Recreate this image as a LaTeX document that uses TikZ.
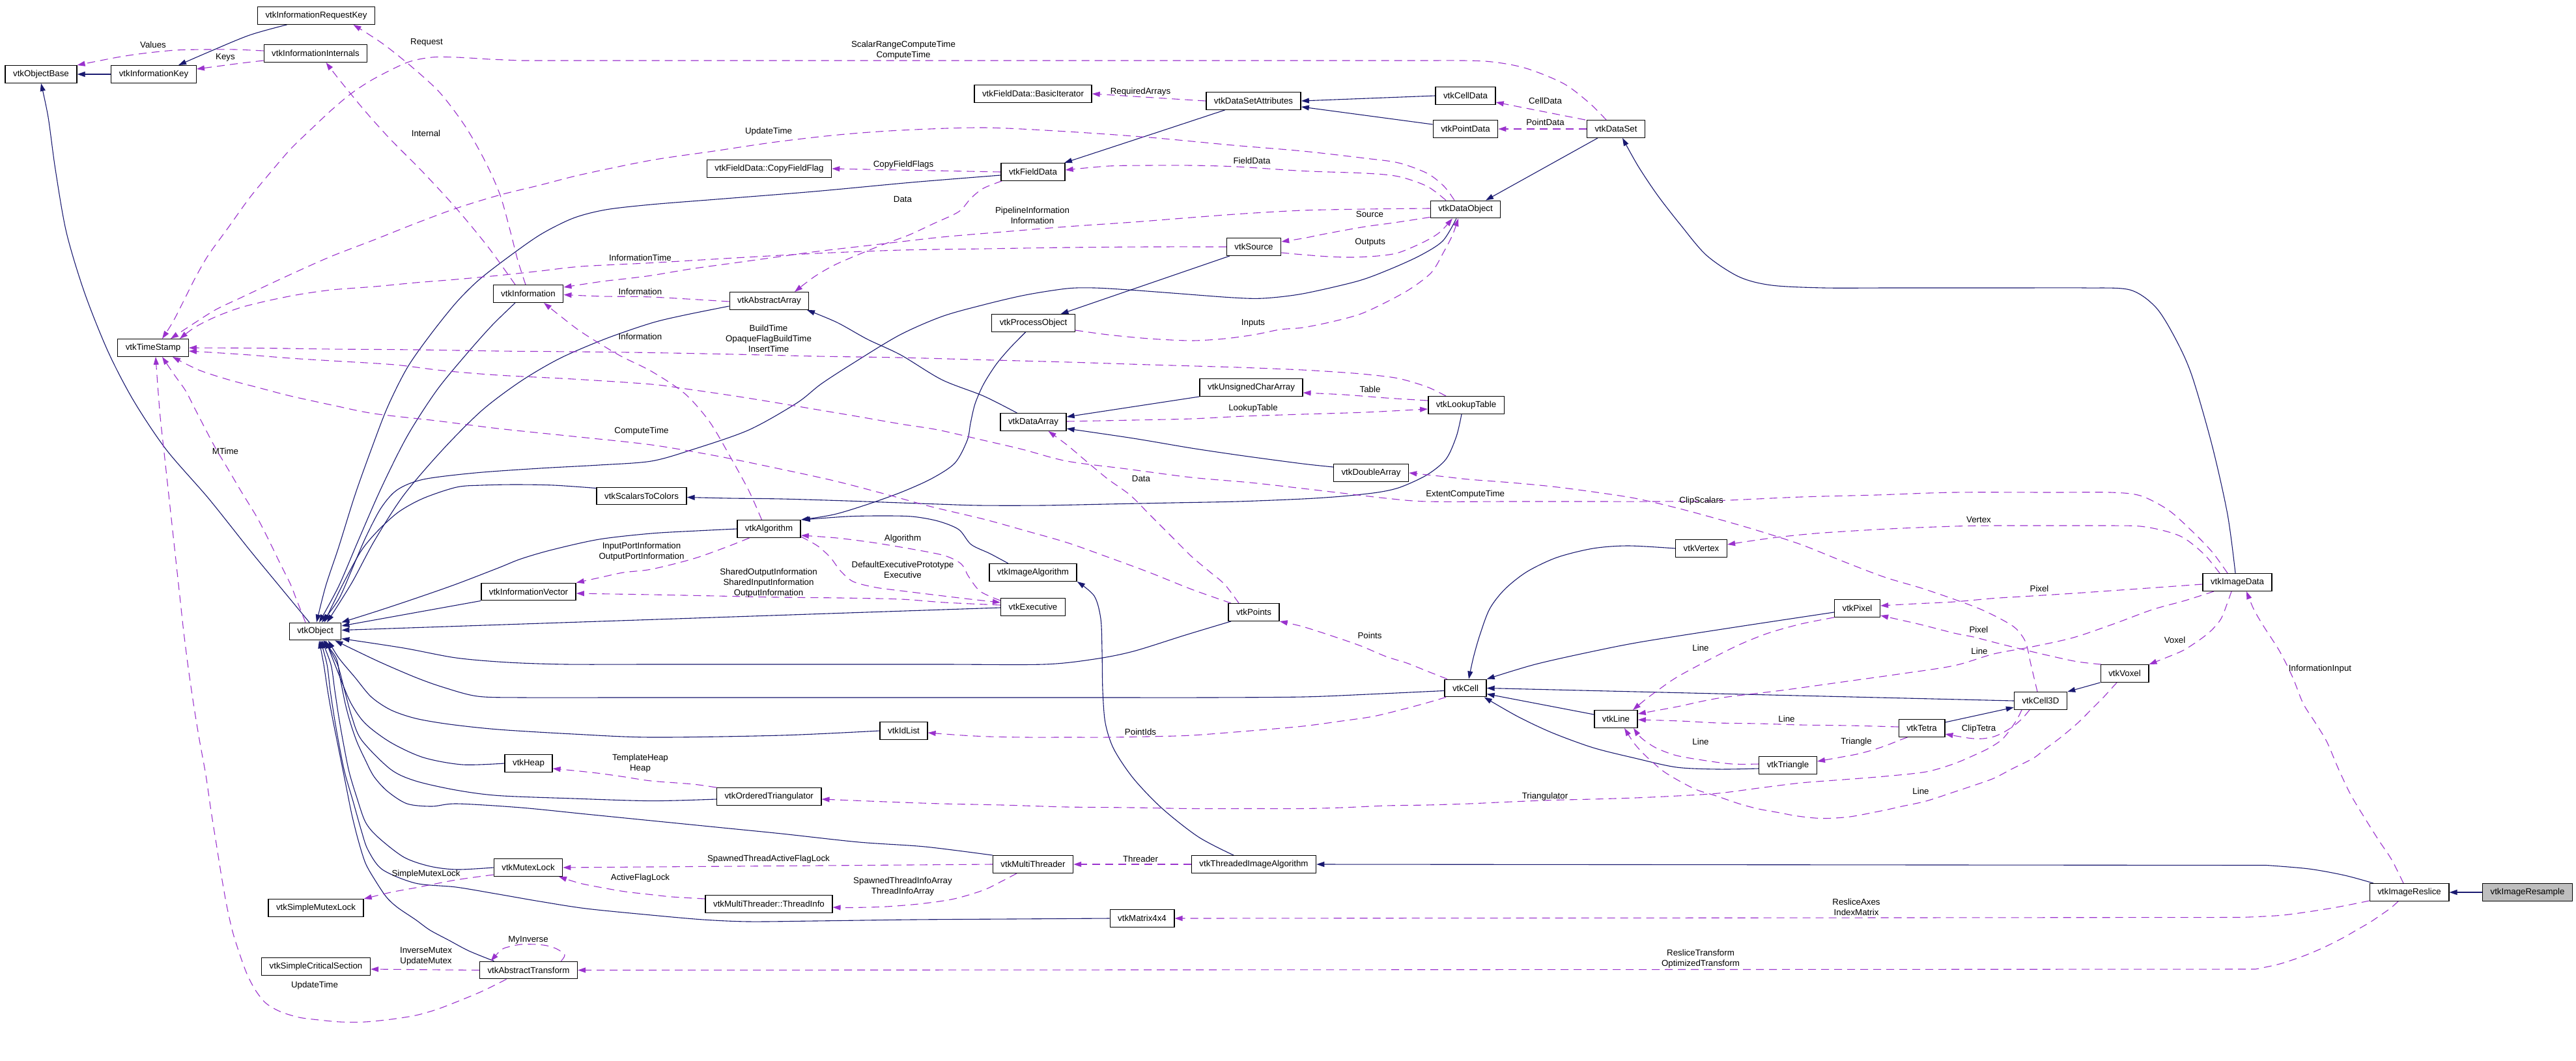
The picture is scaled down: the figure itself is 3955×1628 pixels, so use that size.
\documentclass[tikz,border=0pt]{standalone}
\usepackage{fontspec}
\setmainfont{Liberation Sans}
\usetikzlibrary{arrows.meta}
\definecolor{eblue}{HTML}{191970}
\definecolor{epurp}{HTML}{9A32CD}
\definecolor{resgray}{HTML}{BFBFBF}
\pgfdeclarelayer{background}
\pgfsetlayers{background,main}
\newcommand\fsz{\fontsize{13.3}{16}\selectfont}
\begin{document}
\begin{tikzpicture}[x=1pt,y=-1pt,
 cls/.style={draw=black,line width=1.4pt,fill=white,inner xsep=12pt,inner ysep=0pt,minimum height=26.5pt,font=\fsz},
 inh/.style={draw=eblue,line width=1.1pt,-{Triangle[length=12pt,width=8pt]}},
 usg/.style={draw=epurp,line width=1.1pt,dash pattern=on 12pt off 8pt,-{Triangle[length=12pt,width=8pt]}},
 lbl/.style={font=\fsz,inner sep=0pt,align=center},
 sm/.style={smooth,tension=0.5}]
\useasboundingbox (0,0) rectangle (3955,1628);
% nodes
\node[cls] (ObjectBase) at (63,114) {vtkObjectBase};
\node[cls] (InfoKey) at (236,114) {vtkInformationKey};
\node[cls] (ReqKey) at (485.5,24) {vtkInformationRequestKey};
\node[cls] (Internals) at (484.5,82) {vtkInformationInternals};
\node[cls] (TimeStamp) at (235,534) {vtkTimeStamp};
\node[cls] (Information) at (811,451) {vtkInformation};
\node[cls] (BasicIterator) at (1586,144) {vtkFieldData::BasicIterator};
\node[cls] (DSA) at (1924.5,155) {vtkDataSetAttributes};
\node[cls] (CopyFieldFlag) at (1181,259) {vtkFieldData::CopyFieldFlag};
\node[cls] (FieldData) at (1586,264) {vtkFieldData};
\node[cls] (Source) at (1925,379) {vtkSource};
\node[cls] (AbstractArray) at (1181,462) {vtkAbstractArray};
\node[cls] (ProcessObject) at (1586.5,496) {vtkProcessObject};
\node[cls] (CellData) at (2250,147) {vtkCellData};
\node[cls] (PointData) at (2250,198) {vtkPointData};
\node[cls] (DataSet) at (2481,198) {vtkDataSet};
\node[cls] (DataObject) at (2250,321.5) {vtkDataObject};
\node[cls] (vtkObject) at (484,969.5) {vtkObject};
\node[cls] (ScalarsToColors) at (985,761.5) {vtkScalarsToColors};
\node[cls] (InfoVector) at (811.5,908.5) {vtkInformationVector};
\node[cls] (UCA) at (1921,595) {vtkUnsignedCharArray};
\node[cls] (DataArray) at (1586.5,648) {vtkDataArray};
\node[cls] (Algorithm) at (1180.5,812) {vtkAlgorithm};
\node[cls] (ImageAlgorithm) at (1586,879) {vtkImageAlgorithm};
\node[cls] (Executive) at (1586,932) {vtkExecutive};
\node[cls] (Points) at (1925,940) {vtkPoints};
\node[cls] (LookupTable) at (2251,622) {vtkLookupTable};
\node[cls] (DoubleArray) at (2105,726) {vtkDoubleArray};
\node[cls] (Vertex) at (2612,842) {vtkVertex};
\node[cls] (Pixel) at (2851.5,934) {vtkPixel};
\node[cls] (Cell) at (2250,1056.5) {vtkCell};
\node[cls] (Line) at (2481,1104) {vtkLine};
\node[cls] (ImageData) at (3435,894) {vtkImageData};
\node[cls] (Voxel) at (3262,1034) {vtkVoxel};
\node[cls] (Cell3D) at (3133,1076) {vtkCell3D};
\node[cls] (Tetra) at (2950.5,1118) {vtkTetra};
\node[cls] (Triangle) at (2745,1175) {vtkTriangle};
\node[cls] (Heap) at (811.5,1172) {vtkHeap};
\node[cls] (MutexLock) at (811,1332) {vtkMutexLock};
\node[cls] (SimpleMutexLock) at (485,1394) {vtkSimpleMutexLock};
\node[cls] (SCS) at (485,1484) {vtkSimpleCriticalSection};
\node[cls] (AT) at (811.5,1489.5) {vtkAbstractTransform};
\node[cls] (IdList) at (1387.5,1122) {vtkIdList};
\node[cls] (OT) at (1180.7,1223) {vtkOrderedTriangulator};
\node[cls] (MultiThreader) at (1586,1327) {vtkMultiThreader};
\node[cls] (ThreadInfo) at (1180.5,1388) {vtkMultiThreader::ThreadInfo};
\node[cls] (Matrix) at (1753.5,1410) {vtkMatrix4x4};
\node[cls] (TIA) at (1925,1327) {vtkThreadedImageAlgorithm};
\node[cls] (Reslice) at (3699,1370) {vtkImageReslice};
\node[cls,fill=resgray] (Resample) at (3880.5,1370) {vtkImageResample};

\begin{pgfonlayer}{background}
\fill[white] (0,0) rectangle (3955,1628);
% ---------- inheritance (solid) ----------
\draw[inh] (InfoKey.west) -- (ObjectBase.east);
\draw[inh] plot[sm] coordinates {([xshift=-45pt]ReqKey.south) (383,54) (320,80) ([xshift=38pt]InfoKey.north)};
\draw[inh] plot[sm] coordinates {([xshift=-9pt]vtkObject.north) (425,895) (383,844) (320,765) (255,690) (205,615) (166,540) (130,450) (102,357) (85,260) (74,180) (ObjectBase.south)};
\draw[inh] plot[sm] coordinates {([xshift=-44pt]DSA.south) (1753,211) ([xshift=48pt]FieldData.north)};
\draw[inh] (CellData.west) -- (DSA.east);
\draw[inh] ([yshift=7pt]PointData.west) -- ([yshift=-9pt]DSA.east);
\draw[inh] ([xshift=-28pt]DataSet.south) -- ([xshift=31pt]DataObject.north);
\draw[inh] plot[sm] coordinates {([xshift=-3pt]ImageData.north) (3420,790) (3396,683) (3365,576) (3340,520) (3310,472) (3270,445) (3200,442) (3100,442) (3000,442) (2900,442) (2800,442) (2720,438) (2670,425) (2620,392) (2580,345) (2545,300) (2515,255) ([xshift=10pt]DataSet.south)};
\draw[inh] plot[sm] coordinates {([yshift=-5pt]FieldData.west) (1400,280) (1250,294) (1100,306) (1000,314) (930,322) (880,335) (830,360) (780,395) (735,430) (700,465) (660,515) (625,565) (595,625) (570,690) (545,760) (520,840) (500,900) ([xshift=2pt]vtkObject.north)};
\draw[inh] plot[sm] coordinates {([xshift=-20pt]Information.south) (755,500) (715,545) (670,600) (625,670) (585,750) (550,830) (520,900) ([xshift=6pt]vtkObject.north)};
\draw[inh] plot[sm] coordinates {([yshift=-8pt]AbstractArray.west) (1050,484) (1000,496) (930,520) (860,550) (800,585) (740,630) (680,690) (620,760) (575,830) (540,895) ([xshift=18pt]vtkObject.north)};
\draw[inh] plot[sm] coordinates {([xshift=-14pt]DataObject.south) (2215,370) (2179,393) (2130,415) (2083,432) (2000,451) (1940,458) (1893,457) (1800,450) (1733,445) (1680,442) (1638,443) (1574,453) (1510,468) (1446,486) (1380,515) (1306,560) (1260,590) (1223,619) (1150,660) (1064,690) (1000,708) (920,714) (829,719) (730,726) (650,736) (610,752) (585,780) (561,826) (540,875) (520,920) ([xshift=10pt]vtkObject.north)};
\draw[inh] plot[sm] coordinates {([yshift=12pt]ScalarsToColors.west) (850,745) (791,744) (740,745) (701,748) (650,765) (612,786) (580,815) (555,845) (530,890) (510,930) ([xshift=14pt]vtkObject.north)};
\draw[inh] plot[sm] coordinates {([xshift=-7pt]LookupTable.south) (2236,670) (2220,705) (2191,729) (2150,748) (2115,756) (2060,762) (2000,766) (1900,770) (1800,772) (1700,774) (1600,776) (1504,776) (1440,774) (1383,772) (1300,769) (1200,766) (1120,765) ([yshift=-2pt]ScalarsToColors.east)};
\draw[inh] ([xshift=-37pt]Source.south) -- ([xshift=42pt]ProcessObject.north);
\draw[inh] plot[sm] coordinates {([xshift=-12pt]ProcessObject.south) (1550,535) (1529,560) (1510,590) (1497,620) (1490,650) (1485,676) (1466,711) (1430,735) (1383,756) (1330,775) (1280,790) (Algorithm.north east)};
\draw[inh] plot[sm] coordinates {([xshift=-25pt]DataArray.north) (1510,608) (1446,583) (1383,545) (1332,521) (1285,495) ([xshift=58pt]AbstractArray.south)};
\draw[inh] (UCA.south west) -- ([yshift=8pt]DataArray.east);
\draw[inh] plot[sm] coordinates {([yshift=9pt]DoubleArray.west) (2000,712) (1910,700) (1829,688) (1740,673) ([yshift=-10pt]DataArray.east)};
\draw[inh] plot[sm] coordinates {(Algorithm.west) (1070,815) (1000,819) (920,828) (848,844) (800,858) (765,872) (700,897) (640,918) (580,938) (vtkObject.north east)};
\draw[inh] plot[sm] coordinates {([xshift=-38pt]ImageAlgorithm.north) (1520,850) (1491,836) (1472,813) (1440,800) (1400,793) (1351,792) (1300,793) ([xshift=2pt]Algorithm.north east)};
\draw[inh] (InfoVector.south west) -- ([yshift=8.5pt]vtkObject.east);
\draw[inh] ([yshift=-1pt]Executive.west) -- ([yshift=2pt]vtkObject.east);
\draw[inh] plot[sm] coordinates {([xshift=-35pt]Points.south) (1820,975) (1740,1000) (1680,1012) (1603,1020) (1450,1020) (1300,1020) (1150,1020) (1000,1020) (870,1020) (780,1017) (700,1010) (620,995) ([yshift=-11pt]vtkObject.east)};
\draw[inh] plot[sm] coordinates {([yshift=-4pt]Cell.west) (2100,1066) (2000,1070) (1850,1071) (1700,1071) (1550,1071) (1400,1071) (1250,1071) (1100,1071) (950,1071) (804,1071) (733,1069) (680,1055) (638,1040) (580,1015) ([xshift=-10pt]vtkObject.south east)};
\draw[inh] plot[sm] coordinates {(IdList.west) (1200,1129) (1000,1132) (880,1127) (765,1120) (690,1112) (638,1103) (600,1090) (570,1070) (545,1040) (520,1010) ([xshift=20pt]vtkObject.south)};
\draw[inh] plot[sm] coordinates {(Heap.west) (710,1174) (650,1163) (600,1140) (561,1111) (539,1080) (522,1040) ([xshift=16pt]vtkObject.south)};
\draw[inh] plot[sm] coordinates {([yshift=-4pt]OT.west) (1000,1229.6) (880,1226) (765,1221.5) (700,1213) (638,1199) (599.5,1181) (555,1136) (540,1100) (529,1060) (518,1020) ([xshift=14pt]vtkObject.south)};
\draw[inh] plot[sm] coordinates {(MultiThreader.north west) (1420,1300) (1319,1293) (1200,1280) (1100,1270) (1000,1260) (900,1250) (800,1240) (701.5,1234) (663,1238) (625,1234) (595,1215) (574,1192) (560,1165) (548,1139) (538,1110) (530,1080) (522,1040) (516,1010) ([xshift=12pt]vtkObject.south)};
\draw[inh] plot[sm] coordinates {(MutexLock.west) (701.5,1335) (660,1330) (620,1316) (580,1285) (561,1262) (548,1225) (536,1185) (527,1140) (520,1100) (514,1060) (508,1020) ([xshift=10pt]vtkObject.south)};
\draw[inh] plot[sm] coordinates {(Matrix.west) (1550,1411) (1400,1412) (1250,1414) (1150,1415) (1080,1412) (1000,1405) (900,1395) (829,1384) (760,1372) (700,1362) (638,1356) (587,1335) (565,1305) (555,1276) (542,1230) (529,1185) (520,1140) (513,1100) (507,1060) (502,1020) ([xshift=8pt]vtkObject.south)};
\draw[inh] plot[sm] coordinates {([xshift=-53pt]AT.north) (720,1460) (689,1443.5) (660,1428) (638,1412) (610,1393) (593,1377) (575,1350) (561,1325) (550,1290) (540,1250) (530,1200) (520,1150) (510,1100) (503,1060) (497,1020) ([xshift=6pt]vtkObject.south)};
\draw[inh] plot[sm] coordinates {(Vertex.west) (2500,838) (2446,842) (2390,856) (2344,878) (2310,905) (2287,935) (2272,975) (2262,1010) ([xshift=5pt]Cell.north)};
\draw[inh] plot[sm] coordinates {([yshift=-6pt]Pixel.west) (2670,962) (2523,985) (2446,1000) (2357,1020) (Cell.north east)};
\draw[inh] (Cell3D.west) -- (Cell.east);
\draw[inh] ([yshift=7pt]Line.west) -- ([yshift=-9pt]Cell.east);
\draw[inh] plot[sm] coordinates {([yshift=-5pt]Triangle.west) (2638,1181) (2574,1178) (2510,1164) (2446,1148) (2383,1125) (2330,1100) ([xshift=-4pt]Cell.south east)};
\draw[inh] ([yshift=9pt]Tetra.east) -- ([yshift=-10pt]Cell3D.west);
\draw[inh] (Voxel.south west) -- (Cell3D.north east);
\draw[inh] plot[sm] coordinates {([xshift=-31pt]TIA.north) (1840,1285) (1784,1241) (1740,1195) (1710,1150) (1697,1110) (1693,1060) (1692,1000) (1690,950) (1680,915) (ImageAlgorithm.south east)};
\draw[inh] plot[sm] coordinates {([xshift=-55pt]Reslice.north) (3600,1344) (3545,1334) (3480,1328.5)} -- (TIA.east);
\draw[inh] (Resample.west) -- (Reslice.east);
% ---------- usage (dashed) ----------
\draw[usg] plot[sm] coordinates {([yshift=4pt]Internals.west) (360,76) (319,76) (270,77) (220,82) (180,88) (ObjectBase.north east)};
\draw[usg] plot[sm] coordinates {([yshift=-11pt]Internals.west) (370,97) (332,102) ([yshift=8pt]InfoKey.east)};
\draw[usg] plot[sm] coordinates {([xshift=-4pt]Information.north) (795,400) (784,357) (768,300) (746,250) (715,195) (676,143) (635,105) (593,71) (565,52) ([xshift=57pt]ReqKey.south)};
\draw[usg] plot[sm] coordinates {([xshift=-20pt]Information.north) (750,380) (701.5,321) (650,265) (599.5,214) (560,170) (523,125) ([xshift=16pt]Internals.south)};
\draw[usg] plot[sm] coordinates {([xshift=-15pt]DataSet.north) (2440,158) (2400,128) (2340,104) (2280,94) (2200,93)} -- (800,93) -- plot[sm] coordinates {(752,91) (701,88) (663,88) (625,96) (574,121) (540,143) (510,168) (478,198) (446,229) (415,265) (383,304) (350,350) (319,393) (298,430) (281,464) (265,495) ([xshift=14pt]TimeStamp.north)};
\draw[usg] plot[sm] coordinates {([xshift=-17pt]DataObject.north) (2217,286) (2191,266) (2147,250) (2096,243) (2000,232) (1893,223) (1765,211) (1638,202) (1510,196) (1383,200) (1287,207) (1191,218) (1096,232) (1000,246) (893,268) (830,284) (765,300) (700,320) (638,343) (575,368) (510,393) (460,415) (414.5,436) (370,457) (332,475) (300,495) ([xshift=27pt]TimeStamp.north)};
\draw[usg] plot[sm] coordinates {(Source.west) (1765,379) (1638,380) (1510,382) (1383,384) (1255,389) (1128,396) (1000,403.6) (893,409) (830,416) (765,423) (700,429) (638,434) (575,440) (510,445) (460,452) (414.5,461) (370,472) (332,486) (300,502) ([xshift=41pt]TimeStamp.north)};
\draw[usg] plot[sm] coordinates {([xshift=-30pt]DataObject.north) (2191,286) (2147,271) (2096,266) (2000,262.5) (1900,256) (1829,254) (1760,254) (1701.5,255) ([yshift=3pt]FieldData.east)};
\draw[usg] plot[sm] coordinates {([yshift=1.5pt]DataObject.west) (2096,321) (2000,323) (1910,328) (1829,334) (1740,341) (1638,348) (1540,356) (1446,364) (1350,375) (1255,386) (1190,395) (1128,403.6) (1060,413) (1000,423) (960,428) (925,432) ([yshift=10pt]Information.east)};
\draw[usg] plot[sm] coordinates {([yshift=-12pt]DataObject.west) (2140,342) (2096,348) (2040,358) (2000,366) ([yshift=8pt]Source.east)};
\draw[usg] plot[sm] coordinates {([yshift=-9pt]Source.east) (2000,391) (2040,394) (2076,395) (2115,393) (2147,388) (2185,372) (2210,357) ([xshift=-20pt]DataObject.south)};
\draw[usg] plot[sm] coordinates {([yshift=-11pt]ProcessObject.east) (1701.5,514) (1765,520) (1829,523) (1880,520) (1925,514) (1965,506) (2000,503) (2045,494) (2089,482) (2130,463) (2166,443) (2198,418) (2217,386) (2230,361) ([xshift=-11pt]DataObject.south)};
\draw[usg] plot[sm] coordinates {([xshift=-48pt]FieldData.south) (1510,289) (1491,304) (1472,325) (1434,343) (1395,361) (1357,375) (1320,390) (1281,407) (1250,425) ([xshift=39pt]AbstractArray.north)};
\draw[usg] (FieldData.west) -- (CopyFieldFlag.east);
\draw[usg] (DSA.west) -- (BasicIterator.east);
\draw[usg] ([xshift=-47pt]DataSet.north) -- ([yshift=-10pt]CellData.east);
\draw[usg] (DataSet.west) -- (PointData.east);
\draw[usg] plot[sm] coordinates {([yshift=-1pt]AbstractArray.west) (1000,456) (925,455) ([yshift=-1.5pt]Information.east)};
\draw[usg] plot[sm] coordinates {([xshift=-11pt]Algorithm.north) (1150,754) (1121,701) (1089,647) (1051,604) (1000,570) (950,545) (893,510) (860,485) ([xshift=24pt]Information.south)};
\draw[usg] plot[sm] coordinates {([xshift=-30pt]Algorithm.south) (1115,840) (1064,858) (1000,874) (957,879) (920,887) (InfoVector.north east)};
\draw[usg] plot[sm] coordinates {([yshift=3pt]Executive.west) (1450,925) (1383,920) (1290,918) (1191,917) (1100,915) (1000,913) (940,912) ([yshift=-2.5pt]InfoVector.east)};
\draw[usg] plot[sm] coordinates {([yshift=10pt]Executive.west) (1505,908) (1487,885) (1476,866) (1450,853) (1400,843) (1340,833) (1285,826) ([yshift=-10pt]Algorithm.east)};
\draw[usg] plot[sm] coordinates {([yshift=-12pt]Algorithm.east) (1255,838) (1275,856) (1290,876) (1310,893) (1345,902) (1383,907) (1440,914) (1490,920) ([yshift=7pt]Executive.west)};
\draw[usg] plot[sm] coordinates {([xshift=-23pt]Points.north) (1880,897) (1855,876) (1829,854) (1800,825) (1765,790) (1735,760) (1701.5,736) (1670,710) (1638,683) ([xshift=23pt]DataArray.south)};
\draw[usg] plot[sm] coordinates {([yshift=7pt]LookupTable.west) (2128,611) (2064,606) ([yshift=-8pt]UCA.east)};
\draw[usg] plot[sm] coordinates {([yshift=1pt]DataArray.east) (1740,645) (1829,643) (1910,639) (2000,636) (2096,633) ([yshift=-6pt]LookupTable.west)};
\draw[usg] plot[sm] coordinates {([xshift=-31pt]LookupTable.north) (2191,594) (2147,581) (2100,575) (2064,572) (2000,568) (1900,564) (1765,560) (1640,556) (1510,552.5) (1380,549) (1255,547) (1128,544) (1000,541.5) (880,540) (765,539) (640,537) (510,536) (400,534.5) (TimeStamp.east)};
\draw[usg] plot[sm] coordinates {([xshift=-15pt]ImageData.north) (3396,847) (3365,815) (3329,783) (3286,761) (3240,756) (3150,756) (3000,756) (2880,760) (2765,763) (2638,768.6) (2540,770) (2446,770) (2320,770) (2191,770) (2128,765) (2060,757) (2000,750) (1920,741) (1829,733) (1730,720) (1638,708) (1570,690) (1510,676) (1440,660) (1383,651) (1320,640) (1255,629) (1190,618) (1128,608) (1060,598) (1000,590) (880,582) (765,576) (680,569) (606,560) (510,554) (446,550) (370,544) ([yshift=-5pt]TimeStamp.east)};
\draw[usg] plot[sm] coordinates {([xshift=-35pt]Points.north) (1830,905) (1765,879) (1700,855) (1638,833) (1575,815) (1510,797) (1430,778) (1357,758) (1280,738) (1191,718.6) (1100,700) (1000,683) (880,670) (765,658) (670,646) (574,635) (510,622) (446,608) (400,596) (351,583) (305,568) ([xshift=30pt]TimeStamp.south)};
\draw[usg] plot[sm] coordinates {([xshift=-34pt]AT.south) (740,1522) (701.5,1538) (670,1550) (638,1559) (600,1565) (560,1569) (523,1569) (490,1566) (459,1562) (430,1553) (408,1540) (392,1520) (379,1495) (368,1465) (357,1430) (348,1390) (340,1345) (332,1295) (324,1245) (316,1190) (306,1135) (297,1080) (289,1025) (282,970) (276,915) (270,860) (264,805) (258,750) (252,695) (246,640) (242,590) ([xshift=4pt]TimeStamp.south)};
\draw[usg] plot[sm] coordinates {([xshift=-15pt]vtkObject.north) (455,920) (446,897) (430,865) (414.5,833) (395,795) (370,754) (350,720) (332,690) (316,660) (300,629) (285,600) (268,576) ([xshift=14pt]TimeStamp.south)};
\draw[usg] plot[sm] coordinates {([xshift=-27pt]ImageData.north) (3384,851) (3353,826) (3323,815) (3286,808) (3240,807) (3150,807) (3060,807) (3000,808) (2900,812) (2792,818.6) (2720,826) ([yshift=6pt]Vertex.east)};
\draw[usg] plot[sm] coordinates {([xshift=-5pt]Cell3D.north) (3118,1020) (3110,986) (3095,965) (3073,951) (3040,935) (3000,920) (2950,903) (2893,886) (2830,862) (2765,836) (2700,815) (2638,797) (2575,780) (2510,765) (2445,755) (2383,747) (2320,741) (2255,736) (2210,731) (DoubleArray.east)};
\draw[usg] plot[sm] coordinates {([yshift=-3pt]ImageData.west) (3304.5,902.5) (3240,907) (3183,911) (3120,915) (3061,918.6) (3000,924) (2940,927) ([yshift=4pt]Pixel.east)};
\draw[usg] plot[sm] coordinates {([xshift=-36pt]Voxel.north) (3190,1016) (3152,1008) (3105,997) (3061,986) (3030,978) (3000,972) (2945,958) ([yshift=-11pt]Pixel.east)};
\draw[usg] plot[sm] coordinates {([xshift=-9pt]ImageData.south) (3420,925) (3410,950) (3395,968) (3377.6,982) (3353,998) (3330,1008) (Voxel.north east)};
\draw[usg] plot[sm] coordinates {([xshift=-36pt]ImageData.south) (3355,922) (3304.5,936) (3245,958) (3183,979) (3120,993) (3061,1004) (3000,1022) (2915,1035) (2829,1047) (2735,1060) (2638,1072) (2575,1085) ([yshift=8pt]Line.east)};
\draw[usg] plot[sm] coordinates {(Pixel.south west) (2765,958) (2715,972) (2670,990) (2620,1015) (2574,1040) (2545,1060) (2525,1075) ([xshift=26pt]Line.north)};
\draw[usg] plot[sm] coordinates {([yshift=2pt]Tetra.west) (2840,1114) (2765,1113) (2700,1111) (2638,1110) (2580,1107) ([yshift=-1pt]Line.east)};
\draw[usg] plot[sm] coordinates {([yshift=2pt]Triangle.west) (2660,1173) (2620,1168) (2574,1160) (2542,1148) (2520,1133) ([xshift=27pt]Line.south)};
\draw[usg] plot[sm] coordinates {([xshift=-12pt]Voxel.south) (3230,1070) (3213,1087) (3190,1110) (3164,1132) (3140,1150) (3122,1164) (3090,1180) (3061,1195) (3030,1206) (3000,1216) (2957,1230) (2920,1238) (2893,1244) (2840,1254) (2797,1256.5) (2760,1253) (2733,1248) (2700,1242) (2670,1234) (2635,1222) (2606,1213) (2580,1200) (2555,1185) (2537,1170) (2523,1157) (2508,1140) ([xshift=13pt]Line.south)};
\draw[usg] plot[sm] coordinates {([xshift=-22pt]Tetra.south) (2915,1137) (2900,1143) (2880,1150) (2855,1157) (2829,1162) ([yshift=6pt]Triangle.east)};
\draw[usg] plot[sm] coordinates {([xshift=-17pt]Cell3D.south) (3105,1103) (3091,1115) (3075,1125) (3061,1131) (3045,1134) (3030,1134) (3015,1132) ([yshift=-9pt]Tetra.east)};
\draw[usg] plot[sm] coordinates {([xshift=-29pt]Cell3D.south) (3097,1104) (3085,1122) (3073,1136) (3055,1148) (3036.5,1157) (3000,1172.6) (2957,1185) (2893,1192) (2830,1197) (2765,1202) (2700,1210) (2638,1218) (2575,1222) (2510,1225) (2445,1227) (2383,1228.5) (2320,1231) (2255,1234) (2190,1236) (2128,1237) (2060,1240) (2000,1241.5) (1920,1241.5) (1829,1241.5) (1740,1240) (1638,1239) (1540,1236) (1446,1234) (1360,1231) ([yshift=-4pt]OT.east)};
\draw[usg] plot[sm] coordinates {([xshift=-28pt]Cell.north) (2190,1030) (2160,1018) (2128,1008) (2090,992) (2050,978) (2000,962) (Points.south east)};
\draw[usg] plot[sm] coordinates {([xshift=-30pt]Cell.south) (2191,1079) (2150,1090) (2108,1100) (2060,1107) (2000,1115) (1920,1122) (1829,1129) (1760,1131) (1701.5,1132) (1640,1132) (1574,1132) (1520,1131) (1478,1129) ([yshift=-3pt]IdList.east)};
\draw[usg] plot[sm] coordinates {(OT.north west) (1064,1204) (1000,1199) (960,1193) (925,1188) (890,1184) ([yshift=-8pt]Heap.east)};
\draw[usg] (MultiThreader.west) -- (MutexLock.east);
\draw[usg] plot[sm] coordinates {([yshift=8pt]ThreadInfo.west) (1032,1377) (1000,1373.6) (960,1369) (925,1363) (890,1356) ([xshift=47pt]MutexLock.south)};
\draw[usg] plot[sm] coordinates {([xshift=-25pt]MultiThreader.south) (1540,1352) (1510,1366.6) (1465,1380) (1414.5,1387.5) (1360,1392) (1306,1393.5) ([yshift=-5pt]ThreadInfo.east)};
\draw[usg] plot[sm] coordinates {([yshift=-11pt]MutexLock.west) (700,1351) (638,1363) (600,1370) (SimpleMutexLock.north east)};
\draw[usg] (AT.west) -- ([yshift=-4pt]SCS.east);
\draw[usg] plot[sm] coordinates {([xshift=50pt]AT.north) (867,1466) (855,1457) (840,1452) (823,1450) (800,1450) (784,1453) (770,1458) ([xshift=-58pt]AT.north)};
\draw[usg] plot[sm] coordinates {([yshift=-13pt]Reslice.west) (3578.6,1394.5) (3505.5,1405) (3440,1408.5)} -- (Matrix.east);
\draw[usg] plot[sm] coordinates {([xshift=-17pt]Reslice.south) (3670,1394.5) (3655,1405) (3639.5,1415.5) (3618,1428) (3597,1440) (3567,1455) (3536,1468) (3500,1480) (3463,1488)} -- (AT.east);
\draw[usg] plot[sm] coordinates {([xshift=-9pt]Reslice.north) (3672,1320) (3652,1290) (3630,1255) (3609,1220) (3590,1180) (3572.5,1139) (3555,1110) (3536,1080) (3520,1040) (3500,1000) (3475,961) (3460,935) ([xshift=14pt]ImageData.south)};
\draw[usg] (TIA.west) -- (MultiThreader.east);
\end{pgfonlayer}

% ---------- labels ----------
\node[lbl] (l01) at (235,68.6) {Values};
\node[lbl] (l02) at (346,88.6) {Keys};
\node[lbl] (l03) at (655,65) {Request};
\node[lbl] (l04) at (654,204.6) {Internal};
\node[lbl] (l05) at (1387,76.6) {ScalarRangeComputeTime\\ComputeTime};
\node[lbl] (l06) at (1751,141) {RequiredArrays};
\node[lbl] (l07) at (1180,202.5) {UpdateTime};
\node[lbl] (l08) at (1387,252.9) {CopyFieldFlags};
\node[lbl] (l09) at (1922,246.4) {FieldData};
\node[lbl] (l10) at (1386,306.4) {Data};
\node[lbl] (l11) at (1585,330.5) {PipelineInformation\\Information};
\node[lbl] (l12) at (2103,328.6) {Source};
\node[lbl] (l13) at (2103.6,372.5) {Outputs};
\node[lbl] (l14) at (2372.5,155) {CellData};
\node[lbl] (l15) at (2372.5,188) {PointData};
\node[lbl] (l16) at (983,396) {InformationTime};
\node[lbl] (l17) at (983,447.5) {Information};
\node[lbl] (l18) at (983,517) {Information};
\node[lbl] (l19) at (1924,496.4) {Inputs};
\node[lbl] (l20) at (1180,519.6) {BuildTime\\OpaqueFlagBuildTime\\InsertTime};
\node[lbl] (l21) at (2103.5,598) {Table};
\node[lbl] (l22) at (1924,627.5) {LookupTable};
\node[lbl] (l23) at (346,692.5) {MTime};
\node[lbl] (l24) at (985,662.5) {ComputeTime};
\node[lbl] (l25) at (1752,734.6) {Data};
\node[lbl] (l26) at (2249.6,758.6) {ExtentComputeTime};
\node[lbl] (l27) at (2612,768.6) {ClipScalars};
\node[lbl] (l28) at (3038,798.2) {Vertex};
\node[lbl] (l29) at (1386,826.8) {Algorithm};
\node[lbl] (l30) at (985,846.6) {InputPortInformation\\OutputPortInformation};
\node[lbl] (l31) at (1386,874.9) {DefaultExecutivePrototype\\Executive};
\node[lbl] (l32) at (1180,894.6) {SharedOutputInformation\\SharedInputInformation\\OutputInformation};
\node[lbl] (l33) at (3131,903.6) {Pixel};
\node[lbl] (l34) at (3038,966.4) {Pixel};
\node[lbl] (l35) at (2103,976) {Points};
\node[lbl] (l36) at (3339,983) {Voxel};
\node[lbl] (l37) at (2611,995) {Line};
\node[lbl] (l38) at (3039,999.6) {Line};
\node[lbl] (l39) at (3562,1027.5) {InformationInput};
\node[lbl] (l40) at (2743,1104) {Line};
\node[lbl] (l41) at (3038,1119.5) {ClipTetra};
\node[lbl] (l42) at (1751,1124) {PointIds};
\node[lbl] (l43) at (2611,1139) {Line};
\node[lbl] (l44) at (2850,1139) {Triangle};
\node[lbl] (l45) at (983,1172) {TemplateHeap\\Heap};
\node[lbl] (l46) at (2949,1214.5) {Line};
\node[lbl] (l47) at (2372,1223) {Triangulator};
\node[lbl] (l48) at (1180,1318.7) {SpawnedThreadActiveFlagLock};
\node[lbl] (l49) at (1751,1318.7) {Threader};
\node[lbl] (l50) at (654,1342) {SimpleMutexLock};
\node[lbl] (l51) at (983,1348) {ActiveFlagLock};
\node[lbl] (l52) at (1386,1360.6) {SpawnedThreadInfoArray\\ThreadInfoArray};
\node[lbl] (l53) at (2850,1393) {ResliceAxes\\IndexMatrix};
\node[lbl] (l54) at (811,1443.5) {MyInverse};
\node[lbl] (l55) at (654,1468) {InverseMutex\\UpdateMutex};
\node[lbl] (l56) at (2611,1472.5) {ResliceTransform\\OptimizedTransform};
\node[lbl] (l57) at (483,1512.7) {UpdateTime};
\end{tikzpicture}
\end{document}
